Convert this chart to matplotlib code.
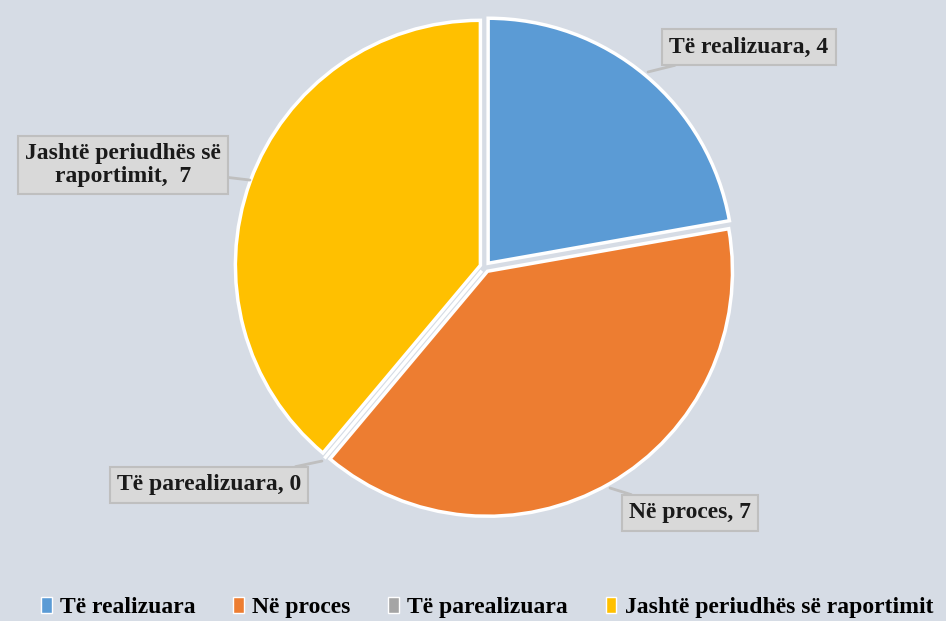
import matplotlib.pyplot as plt
from matplotlib.patches import Patch

categories = ["Të realizuara", "Në proces", "Të parealizuara", "Jashtë periudhës së raportimit"]
values = [4, 7, 0, 7]
colors = ["#5b9bd5", "#ed7d31", "#a5a5a5", "#ffc000"]
label_texts = ["Të realizuara, 4", "Në proces, 7", "Të parealizuara, 0",
               "Jashtë periudhës së\nraportimit,  7"]

bg = "#d6dce5"
plt.rcParams['font.family'] = ['Liberation Serif', 'DejaVu Serif']

fig = plt.figure(figsize=(9.46, 6.21), dpi=100, facecolor=bg)

# pie axes placed in pixels: centre (485, 267), radius ~245
cx, cy, r = 485, 267, 245
ax = fig.add_axes([(cx - r) / 946, (621 - cy - r) / 621, 2 * r / 946, 2 * r / 621])
ax.set_facecolor(bg)

wedges, _ = ax.pie(values, colors=colors, startangle=90, counterclock=False,
                   explode=[0.02] * 4,
                   wedgeprops=dict(edgecolor="white", linewidth=2.5))
ax.set_xlim(-1, 1)
ax.set_ylim(-1, 1)
ax.set_aspect("equal")
ax.axis("off")

# label positions (box centre, pointer tip) in data coords
s = 252 / r
label_pos = [(1.048, 0.873), (0.813, -0.976), (-1.095, -0.865), (-1.437, 0.405)]
tips = [(0.647, 0.774), (0.496, -0.877), (-0.647, -0.770), (-0.933, 0.345)]

for txt, pos, tip in zip(label_texts, label_pos, tips):
    ax.annotate(txt, xy=(tip[0] * s, tip[1] * s), xytext=(pos[0] * s, pos[1] * s),
                ha="center", va="center", linespacing=1.1,
                fontsize=17, fontweight="bold", color="#1a1a1a",
                annotation_clip=False,
                bbox=dict(boxstyle="square,pad=0.3", fc="#d9d9d9", ec="#bfbfbf", lw=1.5),
                arrowprops=dict(arrowstyle="-", color="#bfbfbf", lw=2, shrinkA=0, shrinkB=0))

handles = [Patch(facecolor=c, edgecolor="white", linewidth=1) for c in colors]
fig.legend(handles, categories, loc="lower center", ncol=4, frameon=False,
           bbox_to_anchor=(0.515, -0.03), handlelength=0.45, handleheight=0.7,
           handletextpad=0.35, columnspacing=1.6,
           prop=dict(size=17, weight="bold"))

fig.savefig("out.png", dpi=100, facecolor=bg)
